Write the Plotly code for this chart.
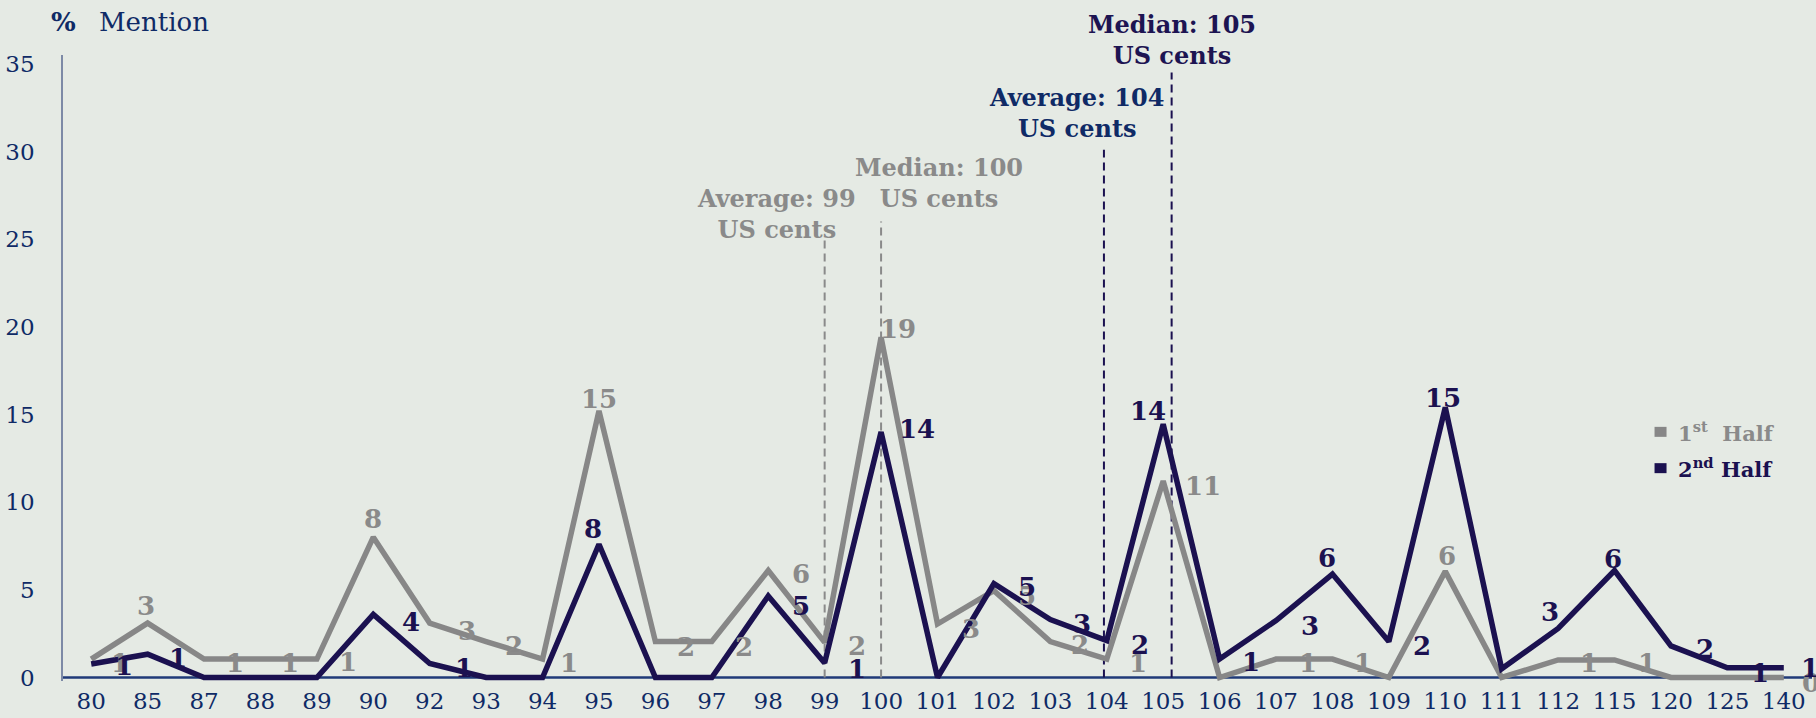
import plotly.graph_objects as go

# Price points (US cents) shown on the category axis
categories = ["80", "85", "87", "88", "89", "90", "92", "93", "94", "95", "96",
              "97", "98", "99", "100", "101", "102", "103", "104", "105", "106",
              "107", "108", "109", "110", "111", "112", "115", "120", "125", "140"]

# % of mentions per price point
first_half = [1.05, 3.1, 1.05, 1.05, 1.05, 8.0, 3.1, 2.05, 1.05, 15.2, 2.05,
              2.05, 6.1, 2.0, 19.4, 3.05, 4.95, 2.05, 1.05, 11.2, 0.0,
              1.05, 1.05, 0.0, 6.05, 0.0, 1.0, 1.0, 0.0, 0.0, 0.0]
second_half = [0.77, 1.33, 0.0, 0.0, 0.0, 3.6, 0.8, 0.0, 0.0, 7.6, 0.0,
               0.0, 4.65, 0.83, 14.0, 0.0, 5.35, 3.3, 2.1, 14.45, 1.05,
               3.25, 5.9, 2.05, 15.4, 0.5, 2.8, 6.1, 1.8, 0.55, 0.55]

series_names = ["1<sup>st</sup>  Half", "2<sup>nd</sup> Half"]

# Summary statistics (US cents) per half
first_avg, first_median = 99, 100
second_avg, second_median = 104, 105

# ---- styling -------------------------------------------------------------
BG = "#e5eae4"
GREY = "#878787"
GREY_TXT = "#8a8a8a"
DARK = "#1b1150"
NAVY = "#0f2a66"
FONT = "DejaVu Serif"
Y_RANGE = [-0.2, 35.5]

# label offsets in pixels (dx right, dy down); None = label not shown
first_offsets = [(29, 4), (-2, -17), (31, 4), (30, 4), (31, 3), (0, -18), (37, 8),
                 (28, 4), (26, 4), (0, -12), (31, 5), (32, 5), (33, 3), (32, 4),
                 (17, -8), (33, 5), (33, 5), (30, 3), (31, 4), (40, 5), None,
                 (32, 4), (31, 4), None, (2, -15), None, (31, 3), (32, 3),
                 None, None, (27, 6)]
second_offsets = [(33, 2), (30, 4), None, None, None, (38, 8), (34, 5), None, None,
                  (-6, -15), None, None, (33, 10), (32, 6), (36, -3), None,
                  (33, 3), (32, 4), (33, 4), (-15, -13), (31, 3), (34, 5),
                  (-5, -16), (33, 4), (-2, -9), None, (-8, -16), (-2, -12),
                  (34, 3), (33, 5), (26, 0)]

fig = go.Figure()

fig.add_trace(go.Scatter(x=categories, y=first_half, mode="lines",
                         line=dict(color=GREY, width=5.5), showlegend=False,
                         hoverinfo="skip"))
fig.add_trace(go.Scatter(x=categories, y=second_half, mode="lines",
                         line=dict(color=DARK, width=5.5), showlegend=False,
                         hoverinfo="skip"))

annotations = []


def value_text(v):
    return str(int(v + 0.5))


def to_paper_y(v):
    return (v - Y_RANGE[0]) / (Y_RANGE[1] - Y_RANGE[0])


# value labels (category index used as x so numeric-looking names stay categories)
for vals, offs, color in [(first_half, first_offsets, GREY_TXT),
                          (second_half, second_offsets, DARK)]:
    for idx, (v, off) in enumerate(zip(vals, offs)):
        if off is None:
            continue
        annotations.append(dict(
            x=idx, y=v, xref="x", yref="y", text=value_text(v),
            showarrow=False, xshift=off[0], yshift=-off[1],
            xanchor="center", yanchor="middle",
            font=dict(family=FONT, size=26, color=color, weight="bold")))

# average / median markers
stat_lines = [
    (categories.index(str(first_avg)), 25.0, GREY_TXT),
    (categories.index(str(first_median)), 26.0, GREY_TXT),
    (categories.index(str(second_avg)) - 0.05, 30.1, DARK),
    (categories.index(str(second_median)) + 0.15, 34.5, DARK),
]
shapes = []
for xpos, top, color in stat_lines:
    shapes.append(dict(type="line", xref="x", yref="y", x0=xpos, x1=xpos,
                       y0=0, y1=top, layer="below",
                       line=dict(color=color, width=2, dash="8px,5px")))

stat_labels = [
    (12.15, 26.45, f"Average: {first_avg}<br>US cents", GREY_TXT),
    (15.03, 28.2, f"Median: {first_median}<br>US cents", GREY_TXT),
    (17.47, 32.2, f"Average: {second_avg}<br>US cents", NAVY),
    (19.16, 36.35, f"Median: {second_median}<br>US cents", "#1d1452"),
]
for xpos, ypos, txt, color in stat_labels:
    annotations.append(dict(
        x=xpos, y=to_paper_y(ypos), xref="x", yref="paper", text=txt,
        showarrow=False, align="center", xanchor="center", yanchor="middle",
        font=dict(family=FONT, size=24, color=color, weight="bold")))

# x axis baseline (under the lines)
shapes.append(dict(type="line", xref="paper", yref="y", x0=0, x1=1, y0=0, y1=0,
                   layer="below", line=dict(color="#1f3a78", width=2.5)))

# legend: square swatches with labels
for ypaper, color, name in [(0.398, GREY, series_names[0]),
                            (0.340, DARK, series_names[1])]:
    shapes.append(dict(type="rect", xref="paper", yref="paper",
                       xsizemode="pixel", ysizemode="pixel",
                       xanchor=0.9134, yanchor=ypaper,
                       x0=-6, x1=6, y0=-5, y1=5,
                       fillcolor=color, line=dict(width=0)))
    annotations.append(dict(
        x=0.9225, y=ypaper, xref="paper", yref="paper", text=name,
        showarrow=False, xanchor="left", yanchor="middle",
        font=dict(family=FONT, size=21,
                  color=GREY_TXT if color == GREY else DARK, weight="bold")))

# unit header
annotations.append(dict(x=0.0, y=1.053, xref="paper", yref="paper", text="<b>%</b>",
                        showarrow=False, xanchor="center", yanchor="middle",
                        font=dict(family=FONT, size=26, color=NAVY)))
annotations.append(dict(x=0.0194, y=1.053, xref="paper", yref="paper", text="Mention",
                        showarrow=False, xanchor="left", yanchor="middle",
                        font=dict(family=FONT, size=26, color=NAVY)))

fig.update_layout(
    width=1816, height=718,
    margin=dict(l=63, r=4, t=55, b=33),
    paper_bgcolor=BG, plot_bgcolor=BG,
    showlegend=False,
    shapes=shapes, annotations=annotations,
    xaxis=dict(type="category", range=[-0.5, 30.5], showgrid=False,
               showline=False, zeroline=False, ticks="",
               tickfont=dict(family=FONT, size=23, color=NAVY),
               ticklabelstandoff=4, fixedrange=True),
    yaxis=dict(range=Y_RANGE, tickvals=[0, 5, 10, 15, 20, 25, 30, 35],
               showgrid=False, zeroline=False, showline=True,
               linecolor="#7d8aa6", linewidth=1.5, ticks="",
               tickfont=dict(family=FONT, size=23, color=NAVY),
               ticklabelstandoff=22, fixedrange=True),
)

fig.write_html("out.html")
